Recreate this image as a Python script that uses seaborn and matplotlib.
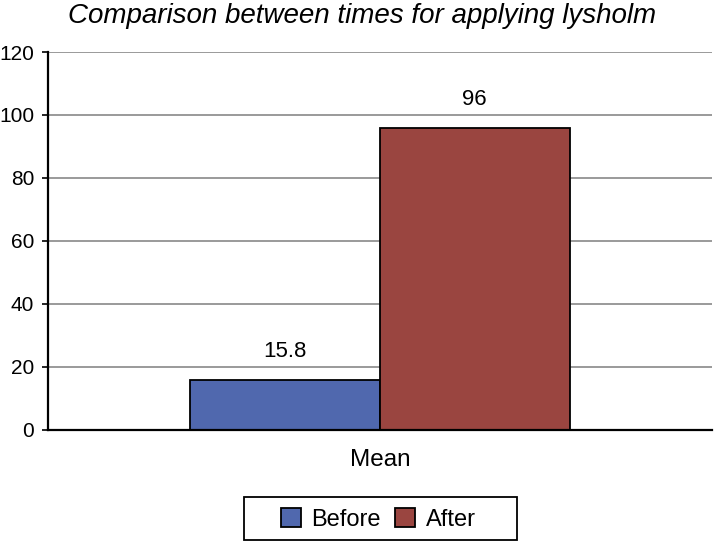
import matplotlib
matplotlib.use("Agg")
import matplotlib.pyplot as plt
from matplotlib.patches import Rectangle
import seaborn as sns
import pandas as pd

# data
groups = ["Before", "After"]
values = [15.8, 96]
labels = ["15.8", "96"]
category = "Mean"
colors = ["#5068AE", "#9A4540"]

df = pd.DataFrame({"cat": [category] * len(groups), "group": groups, "value": values})

sns.set_style("white")
plt.rcParams["font.family"] = ["Liberation Sans", "DejaVu Sans"]
plt.rcParams["text.color"] = "black"
plt.rcParams["xtick.color"] = "black"
plt.rcParams["ytick.color"] = "black"

fig = plt.figure(figsize=(7.16, 5.42), dpi=100)
ax = fig.add_axes([0.067, 0.207, 0.927, 0.697])

sns.barplot(data=df, x="cat", y="value", hue="group", hue_order=groups,
            palette=colors, width=0.572, edgecolor="black", linewidth=1.3,
            saturation=1, ax=ax, legend=True)

for cont, lab in zip(ax.containers, labels):
    ax.bar_label(cont, labels=[lab], padding=13, fontsize=16)

ax.set_ylim(0, 120)
ax.set_xlim(-0.5, 0.5)
ax.set_yticks(range(0, 121, 20))
ax.yaxis.grid(True, color="#9a9a9a", linewidth=1.4)
ax.set_axisbelow(True)
ax.set_xlabel("")
ax.set_ylabel("")
ax.tick_params(axis="y", labelsize=15, left=True, length=4, width=1.2, pad=6)
ax.tick_params(axis="x", labelsize=17.5, bottom=False, pad=10)
for side in ["top", "right"]:
    ax.spines[side].set_visible(False)
for side in ["left", "bottom"]:
    ax.spines[side].set_color("black")
    ax.spines[side].set_linewidth(1.6)

fig.text(0.505, 0.957, "Comparison between times for applying lysholm",
         fontsize=20, style="italic", ha="center", va="baseline")

leg = ax.legend(loc="center", bbox_to_anchor=(0.528, 0.042),
                bbox_transform=fig.transFigure, ncol=2, frameon=False,
                fontsize=17, handlelength=0.85, handleheight=0.85,
                handletextpad=0.45, columnspacing=0.6)
fig.add_artist(Rectangle((0.341, 0.003), 0.381, 0.080, transform=fig.transFigure,
                         fill=False, edgecolor="black", linewidth=1.3))

fig.savefig("out.png", dpi=100)
